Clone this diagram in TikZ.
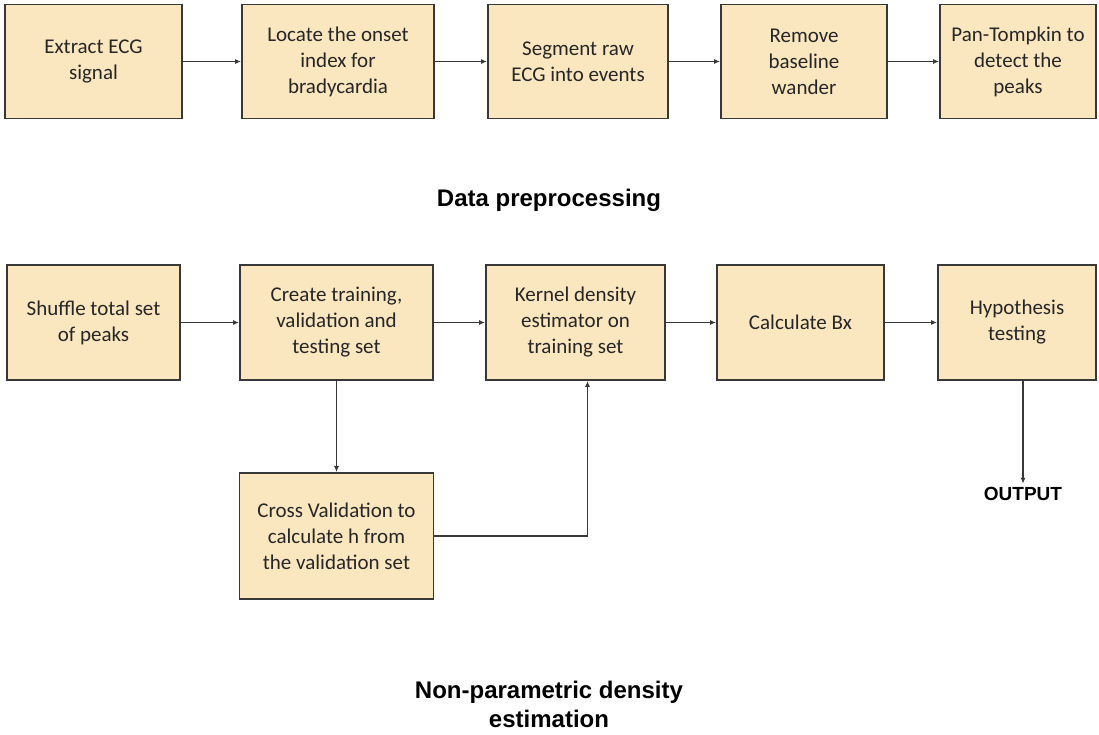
\documentclass[tikz,border=0pt]{standalone}
\usepackage{fontspec}
\setmainfont{Carlito}
\newfontfamily\labelfont{Liberation Sans}
\usepackage{xcolor}
\usetikzlibrary{arrows.meta,positioning,calc}

\definecolor{boxfill}{HTML}{FBE7BF}
\definecolor{boxline}{HTML}{383838}
\definecolor{boxtext}{HTML}{262626}

\tikzset{
	stagebox/.style={draw=boxline, fill=boxfill, line width=1.9pt, rectangle,
		align=center, text=boxtext, inner sep=0pt,
		font=\fontsize{21}{26}\selectfont},
	flow/.style={line width=1.6pt, draw=boxline, -{Latex[length=6pt,width=5pt]}},
	caption/.style={font=\labelfont\bfseries\fontsize{24}{29}\selectfont, align=center, text=black}
}

\begin{document}
\begin{tikzpicture}[x=1pt, y=-1pt]
		\useasboundingbox (0,0) rectangle (1099,734);
		% data preprocessing row
		\node[stagebox, minimum width=177pt, minimum height=114pt] (extract) at (93.5,61.5) {Extract ECG\\signal};
		\node[stagebox, minimum width=192pt, minimum height=114pt] (onset) at (338,61.5) {Locate the onset\\index for\\bradycardia};
		\node[stagebox, minimum width=180pt, minimum height=114pt] (segment) at (578,61.5) {Segment raw\\ECG into events};
		\node[stagebox, minimum width=166pt, minimum height=114pt] (baseline) at (804,61.5) {Remove\\baseline\\wander};
		\node[stagebox, minimum width=156pt, minimum height=114pt] (pantomp) at (1018,61.5) {Pan-Tompkin to\\detect the\\peaks};
		\node[caption] (prelabel) at (549,200) {Data preprocessing};
		\draw[flow] (extract) -- (onset);
		\draw[flow] (onset) -- (segment);
		\draw[flow] (segment) -- (baseline);
		\draw[flow] (baseline) -- (pantomp);
		% density estimation row
		\node[stagebox, minimum width=173pt, minimum height=115pt] (shuffle) at (93.5,322.5) {Shuffle total set\\of peaks};
		\node[stagebox, minimum width=193pt, minimum height=115pt] (split) at (336.5,322.5) {Create training,\\validation and\\testing set};
		\node[stagebox, minimum width=179pt, minimum height=115pt] (kde) at (575.5,322.5) {Kernel density\\estimator on\\training set};
		\node[stagebox, minimum width=167pt, minimum height=115pt] (bx) at (800.5,322.5) {Calculate Bx};
		\node[stagebox, minimum width=158pt, minimum height=115pt] (hypo) at (1017,322.5) {Hypothesis\\testing};
		\node[stagebox, minimum width=194pt, minimum height=126pt] (crossval) at (336.5,536) {Cross Validation to\\calculate h from\\the validation set};
		\node[font=\labelfont\bfseries\fontsize{19}{23}\selectfont] (out) at (1023,494) {OUTPUT};
		\node[caption] (npelabel) at (549,704) {Non-parametric density\\estimation};
		\draw[flow] (shuffle) -- (split);
		\draw[flow] (split) -- (kde);
		\draw[flow] (kde) -- (bx);
		\draw[flow] (bx) -- (hypo);
		\draw[flow] (split) -- (crossval);
		\draw[flow] (crossval.east) -| ([xshift=12pt]kde.south);
		\draw[flow] (hypo.south -| out.north) -- (out.north);
	\end{tikzpicture}
\end{document}
